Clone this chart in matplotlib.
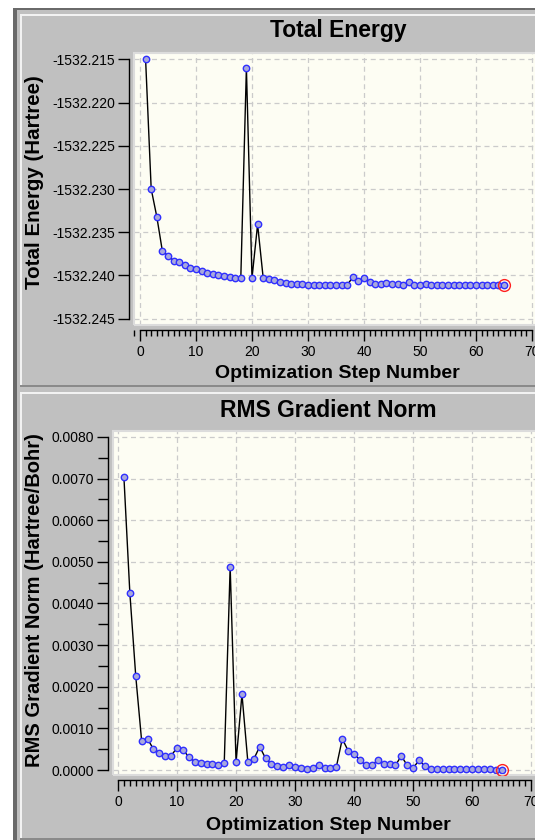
import matplotlib
matplotlib.use("Agg")
import matplotlib.pyplot as plt
from matplotlib.patches import Rectangle
from matplotlib.ticker import FixedLocator, MultipleLocator, FuncFormatter

plt.rcParams['font.family'] = ['Liberation Sans', 'DejaVu Sans']

# ---------------- data ----------------
steps = list(range(1, 66))
energy = [
    -1532.2150, -1532.2300, -1532.2332, -1532.2372, -1532.2377, -1532.2383,
    -1532.2385, -1532.2388, -1532.2391, -1532.2393, -1532.2395, -1532.2397,
    -1532.2398, -1532.2400, -1532.2401, -1532.2402, -1532.2403, -1532.2403,
    -1532.2160, -1532.2403, -1532.2341, -1532.2403, -1532.2404, -1532.2405,
    -1532.2407, -1532.2409, -1532.2410, -1532.2410, -1532.2410, -1532.2411,
    -1532.2411, -1532.2411, -1532.2411, -1532.2411, -1532.2411, -1532.2411,
    -1532.2411, -1532.2402, -1532.2406, -1532.2403, -1532.2408, -1532.2410,
    -1532.2410, -1532.2409, -1532.2410, -1532.2410, -1532.2411, -1532.2408,
    -1532.2411, -1532.2411, -1532.2410, -1532.2411, -1532.2411, -1532.2411,
    -1532.2411, -1532.2411, -1532.2411, -1532.2411, -1532.2411, -1532.2411,
    -1532.2411, -1532.2411, -1532.2411, -1532.2411, -1532.2411,
]
grad = [
    0.00703, 0.00426, 0.00226, 0.00070, 0.00075, 0.00050, 0.00042, 0.00034,
    0.00034, 0.00054, 0.00049, 0.00031, 0.00020, 0.00017, 0.00014, 0.00014,
    0.00012, 0.00018, 0.00488, 0.00019, 0.00182, 0.00019, 0.00026, 0.00056,
    0.00028, 0.00014, 0.00010, 0.00008, 0.00011, 0.00008, 0.00006, 0.00003,
    0.00006, 0.00012, 0.00006, 0.00006, 0.00008, 0.00075, 0.00046, 0.00039,
    0.00024, 0.00011, 0.00011, 0.00024, 0.00014, 0.00014, 0.00011, 0.00034,
    0.00011, 0.00005, 0.00023, 0.00009, 0.00003, 0.00003, 0.00002, 0.00002,
    0.00002, 0.00002, 0.00002, 0.00002, 0.00002, 0.00002, 0.00002, 0.00001,
    0.00001,
]
energy_ticks = [-1532.215, -1532.220, -1532.225, -1532.230, -1532.235, -1532.240, -1532.245]
grad_ticks = [0.0, 0.001, 0.002, 0.003, 0.004, 0.005, 0.006, 0.007, 0.008]
x_ticks = [0, 10, 20, 30, 40, 50, 60, 70]

W, H = 535, 840
fig = plt.figure(figsize=(W / 100, H / 100), dpi=100)
fig.patch.set_facecolor('white')


def rect(x0, y0, x1, y1, color, z=-10):
    fig.add_artist(Rectangle((x0 / W, 1 - y1 / H), (x1 - x0) / W, (y1 - y0) / H,
                             transform=fig.transFigure, facecolor=color,
                             edgecolor='none', zorder=z))


# window background / panels
rect(13, 8, W, H, '#6a6a6a', -12)
rect(17, 10, W, H, '#c0c0c0', -11)
rect(20, 14, W, 387, '#f2f2f2', -10)
rect(22, 16, W, 385, '#c0c0c0', -9)
rect(20, 385, W, 387, '#8a8a8a', -9)
rect(20, 392, W, H, '#f2f2f2', -10)
rect(22, 394, W, H - 2, '#c0c0c0', -9)
rect(20, H - 2, W, H, '#8a8a8a', -9)


def make_axes(left, top, right, bottom):
    return fig.add_axes([left / W, 1 - bottom / H, (right - left) / W, (bottom - top) / H])


PX = 72 / 100  # points per pixel


def style(ax, ybounds, yticks, fmt, yminor=None):
    ax.set_facecolor('#fdfdf3')
    ax.spines['top'].set_visible(False)
    ax.spines['right'].set_visible(False)
    ax.spines['left'].set_position(('outward', 4.7 * PX))
    ax.spines['bottom'].set_position(('outward', 5 * PX))
    ax.spines['left'].set_bounds(*ybounds)
    ax.spines['bottom'].set_bounds(0, 70)
    for s in ('left', 'bottom'):
        ax.spines[s].set_linewidth(1.0)
        ax.spines[s].set_color('black')
    ax.xaxis.set_major_locator(FixedLocator(x_ticks))
    ax.xaxis.set_minor_locator(MultipleLocator(1))
    ax.yaxis.set_major_locator(FixedLocator(yticks))
    if yminor is not None:
        ax.yaxis.set_minor_locator(FixedLocator(yminor))
    ax.yaxis.set_major_formatter(FuncFormatter(lambda v, p: fmt % v))
    ax.tick_params(axis='x', which='major', length=8 * PX * 1.39, width=1.0, pad=3,
                   labelsize=10, colors='black')
    ax.tick_params(axis='x', which='minor', length=4.5 * PX * 1.39, width=1.0)
    ax.tick_params(axis='y', which='major', length=8 * PX * 1.39, width=1.0, pad=2,
                   labelsize=10)
    ax.tick_params(axis='y', which='minor', length=7 * PX * 1.39, width=1.0)
    ax.grid(True, which='major', linestyle=(0, (4, 3)), color='#cbcbcb', linewidth=0.9)
    ax.set_axisbelow(True)
    ax.add_patch(Rectangle((0, 0), 1, 1, transform=ax.transAxes, fill=False,
                           edgecolor='#dcdcdc', linewidth=1.5, zorder=5, clip_on=False))


def draw_series(ax, xs, ys):
    ax.plot(xs, ys, color='black', linewidth=1.0, zorder=3)
    ax.plot(xs, ys, linestyle='none', marker='o', markersize=4.6,
            markerfacecolor='#a8a8dc', markeredgecolor='#2f2fff',
            markeredgewidth=1.0, zorder=4)
    ax.plot(xs[-1], ys[-1], linestyle='none', marker='o', markersize=8.5,
            markerfacecolor='none', markeredgecolor='#ff2020',
            markeredgewidth=1.0, zorder=5)


# ---------------- Total Energy ----------------
ax1 = make_axes(134, 53, 538, 325)
ax1.set_xlim(-1.07, 71.07)
ax1.set_ylim(-1532.24573, -1532.21427)
style(ax1, (-1532.245, -1532.215), energy_ticks, '%.3f')
draw_series(ax1, steps, energy)

fig.text(338 / W, 1 - 31 / H, 'Total Energy', ha='center', va='center',
         fontsize=16.5, fontweight='bold')
fig.text(337 / W, 1 - 373 / H, 'Optimization Step Number', ha='center', va='center',
         fontsize=14, fontweight='bold')
fig.text(35 / W, 1 - 182 / H, 'Total Energy (Hartree)', ha='center', va='center',
         rotation=90, fontsize=14.8, fontweight='bold')

# ---------------- RMS Gradient Norm ----------------
ax2 = make_axes(112.6, 431, 540, 775)
ax2.set_xlim(-0.92, 71.5)
ax2.set_ylim(-0.00012, 0.008144)
grad_minor = [0.0005, 0.0015, 0.0025, 0.0035, 0.0045, 0.0055, 0.0065, 0.0075]
style(ax2, (0.0, 0.008), grad_ticks, '%.4f', yminor=grad_minor)
draw_series(ax2, steps, grad)

fig.text(328 / W, 1 - 410 / H, 'RMS Gradient Norm', ha='center', va='center',
         fontsize=16.5, fontweight='bold')
fig.text(328 / W, 1 - 825 / H, 'Optimization Step Number', ha='center', va='center',
         fontsize=14, fontweight='bold')
fig.text(35 / W, 1 - 600 / H, 'RMS Gradient Norm (Hartree/Bohr)', ha='center',
         va='center', rotation=90, fontsize=14.5, fontweight='bold')

fig.savefig('out.png', dpi=100, facecolor=fig.get_facecolor())
